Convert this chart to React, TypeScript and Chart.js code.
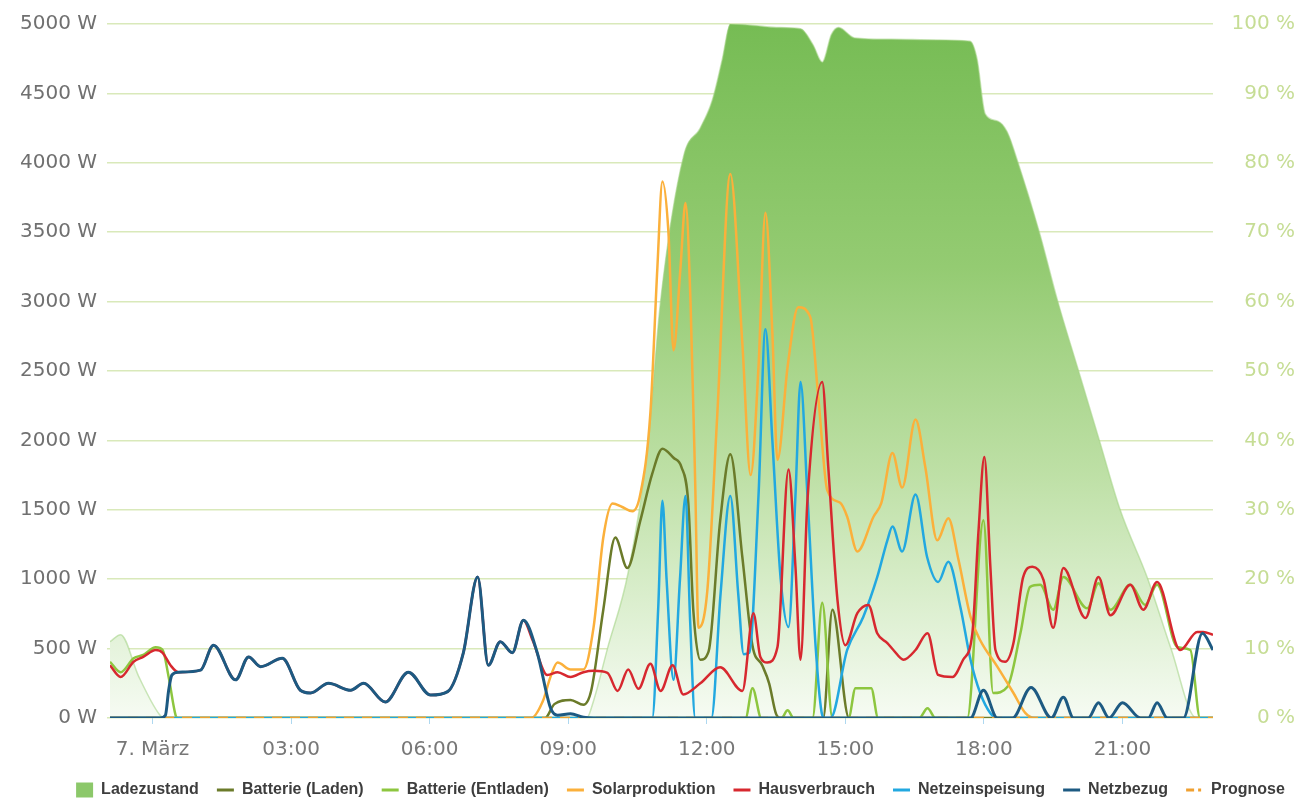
import React, { useEffect, useRef } from 'react';
import { Chart, registerables } from 'chart.js';

Chart.register(...registerables);

type P = [number, number];

// x values are hours of 7 March (negative = previous evening)
const timeTickHours = [0, 3, 6, 9, 12, 15, 18, 21];
const timeTickLabels = ['7. März', '03:00', '06:00', '09:00', '12:00', '15:00', '18:00', '21:00'];
const powerTicks = [0, 500, 1000, 1500, 2000, 2500, 3000, 3500, 4000, 4500, 5000];
const socTicks = [0, 10, 20, 30, 40, 50, 60, 70, 80, 90, 100];

const seriesLabels = [
  'Ladezustand',
  'Batterie (Laden)',
  'Batterie (Entladen)',
  'Solarproduktion',
  'Hausverbrauch',
  'Netzeinspeisung',
  'Netzbezug',
  'Prognose',
];
const seriesColors = ['#8cc86a', '#6b7b2a', '#8dc63f', '#fbb03b', '#d7282f', '#22a8e0', '#1d5a82', '#f0a030'];

// Ladezustand in %
const ladezustand: P[] = [
  [-0.92, 11], [-0.69, 12], [-0.3, 6], [0.15, 0.5], [0.25, 0], [9.4, 0], [9.55, 2.5], [9.85, 10],
  [10.3, 21], [10.72, 39], [11.0, 60], [11.5, 81], [11.86, 85], [12.12, 89], [12.34, 95], [12.51, 100],
  [13.0, 99.8], [13.5, 99.5], [14.03, 99.3], [14.3, 97], [14.5, 94.5], [14.7, 98.5], [14.85, 99.5],
  [15.2, 98], [16.0, 97.8], [17.0, 97.7], [17.7, 97.5], [17.85, 95], [18.03, 87], [18.3, 86],
  [18.5, 84.5], [18.74, 80], [19.2, 70], [19.6, 60], [20.05, 50], [20.5, 40], [20.95, 30],
  [21.55, 20], [22.05, 10], [22.6, 0], [22.96, 0],
];

// Watt series
const batterieLaden: P[] = [
  [-0.92, 0], [8.5, 0], [8.7, 100], [9.05, 130], [9.33, 95], [9.5, 200], [9.76, 780], [10.02, 1300],
  [10.28, 1080], [10.56, 1420], [10.82, 1760], [11.04, 1940], [11.28, 1875], [11.45, 1810],
  [11.6, 1550], [11.71, 770], [11.86, 420], [12.04, 480], [12.29, 1420], [12.51, 1900],
  [12.77, 1160], [12.99, 520], [13.2, 380], [13.35, 250], [13.5, 30], [13.6, 0], [14.52, 0],
  [14.72, 780], [15.08, 0], [22.96, 0],
];

const batterieEntladen: P[] = [
  [-0.92, 405], [-0.69, 330], [-0.41, 430], [-0.2, 455], [0.07, 510], [0.22, 490], [0.35, 295],
  [0.5, 20], [0.54, 0], [12.84, 0], [12.99, 215], [13.18, 0], [13.62, 0], [13.75, 55], [13.88, 0],
  [14.29, 0], [14.5, 830], [14.72, 0], [15.07, 0], [15.22, 215], [15.56, 215], [15.71, 0],
  [16.6, 0], [16.78, 70], [16.95, 0], [17.64, 0], [17.99, 1425], [18.2, 180], [18.51, 225],
  [18.79, 610], [19.0, 945], [19.22, 960], [19.5, 780], [19.72, 1015], [20.24, 790], [20.48, 970],
  [20.74, 780], [21.17, 960], [21.49, 815], [21.75, 960], [22.19, 510], [22.47, 490], [22.68, 0],
  [22.96, 0],
];

const solarproduktion: P[] = [
  [-0.92, 0], [8.2, 0], [8.45, 120], [8.62, 300], [8.77, 400], [9.05, 350], [9.33, 350], [9.55, 655],
  [9.76, 1300], [9.96, 1545], [10.17, 1520], [10.39, 1490], [10.56, 1610], [10.78, 2200],
  [10.93, 3240], [11.04, 3865], [11.17, 3500], [11.28, 2650], [11.43, 3240], [11.54, 3710],
  [11.65, 2980], [11.75, 1690], [11.82, 650], [12.01, 910], [12.23, 2200], [12.51, 3920],
  [12.77, 2700], [12.95, 1750], [13.12, 2530], [13.27, 3640], [13.42, 2775], [13.53, 1860],
  [13.75, 2530], [13.98, 2960], [14.24, 2890], [14.42, 2290], [14.61, 1640], [14.89, 1550],
  [15.04, 1450], [15.26, 1200], [15.61, 1450], [15.78, 1550], [16.02, 1910], [16.23, 1660],
  [16.52, 2150], [16.73, 1810], [16.99, 1280], [17.23, 1440], [17.45, 1140], [17.71, 730],
  [17.92, 560], [18.29, 370], [18.64, 180], [18.9, 35], [19.1, 0], [22.96, 0],
];

const hausverbrauch: P[] = [
  [-0.92, 380], [-0.69, 295], [-0.41, 405], [-0.2, 440], [0.07, 490], [0.22, 470], [0.39, 380],
  [0.56, 330], [1.04, 345], [1.32, 525], [1.8, 275], [2.08, 440], [2.34, 370], [2.81, 430],
  [3.2, 200], [3.42, 180], [3.81, 250], [4.29, 200], [4.57, 250], [5.04, 115], [5.54, 330],
  [6.02, 165], [6.39, 190], [6.73, 470], [7.04, 1015], [7.27, 380], [7.53, 550], [7.79, 470],
  [8.03, 705], [8.23, 560], [8.55, 310], [8.77, 330], [9.05, 295], [9.33, 330], [9.55, 340],
  [9.85, 325], [10.07, 195], [10.3, 350], [10.52, 210], [10.78, 390], [11.0, 195], [11.26, 380],
  [11.49, 170], [11.86, 250], [12.29, 365], [12.77, 195], [13.01, 755], [13.16, 440], [13.31, 400],
  [13.53, 510], [13.77, 1790], [13.92, 1090], [14.03, 420], [14.18, 1570], [14.5, 2420],
  [14.63, 1810], [14.83, 850], [15.0, 525], [15.26, 755], [15.5, 815], [15.69, 610], [15.91, 540],
  [16.04, 490], [16.26, 420], [16.52, 490], [16.78, 610], [17.01, 310], [17.32, 295], [17.55, 420],
  [17.75, 610], [17.88, 1330], [18.01, 1880], [18.14, 1090], [18.25, 490], [18.46, 405],
  [18.64, 540], [18.85, 1015], [19.05, 1090], [19.29, 995], [19.5, 650], [19.72, 1080],
  [20.2, 720], [20.48, 1015], [20.74, 740], [21.17, 960], [21.45, 780], [21.75, 980], [22.25, 490],
  [22.62, 620], [22.75, 620], [22.96, 600],
];

const netzeinspeisung: P[] = [
  [-0.92, 0], [10.82, 0], [10.95, 800], [11.04, 1565], [11.13, 1000], [11.28, 275], [11.42, 1000],
  [11.54, 1600], [11.64, 700], [11.75, 0], [12.1, 0], [12.3, 900], [12.51, 1600], [12.68, 900],
  [12.8, 460], [12.92, 470], [13.12, 1600], [13.27, 2800], [13.42, 2000], [13.6, 1000],
  [13.77, 655], [13.92, 1600], [14.03, 2420], [14.18, 1600], [14.36, 500], [14.5, 20], [14.55, 0],
  [14.68, 0], [15.04, 490], [15.39, 730], [15.69, 1015], [15.91, 1280], [16.02, 1380],
  [16.23, 1200], [16.52, 1610], [16.77, 1160], [17.01, 980], [17.23, 1125], [17.49, 800],
  [17.71, 420], [17.92, 180], [18.14, 35], [18.3, 0], [22.96, 0],
];

const netzbezug: P[] = [
  [-0.92, 0], [0.17, 0], [0.28, 20], [0.35, 200], [0.42, 310], [0.56, 330], [1.04, 345], [1.32, 525],
  [1.8, 275], [2.08, 440], [2.34, 370], [2.81, 430], [3.2, 200], [3.42, 180], [3.81, 250],
  [4.29, 200], [4.57, 250], [5.04, 115], [5.54, 330], [6.02, 165], [6.39, 190], [6.73, 470],
  [7.04, 1015], [7.27, 380], [7.53, 550], [7.79, 470], [8.03, 705], [8.33, 470], [8.62, 70],
  [8.77, 20], [9.05, 30], [9.33, 5], [9.55, 0], [17.71, 0], [17.99, 200], [18.29, 0], [18.62, 0],
  [19.02, 220], [19.46, 0], [19.72, 150], [19.94, 0], [20.26, 0], [20.48, 110], [20.71, 0],
  [21.0, 110], [21.39, 0], [21.56, 0], [21.75, 110], [21.97, 0], [22.32, 0], [22.73, 610],
  [22.96, 490],
];

const prognose: P[] = [[-0.92, 0], [22.96, 0]];

const toXY = (arr: P[]) => arr.map(([x, y]) => ({ x, y }));

// moves the (centred) legend row sideways, as in the original layout
const legendShift = {
  id: 'legendShift',
  afterLayout(chart: any) {
    const l = chart.legend;
    if (l) {
      l.left += 33;
      l.right += 33;
    }
  },
};

export default function App() {
  const ref = useRef<HTMLCanvasElement | null>(null);

  useEffect(() => {
    if (!ref.current) return;
    const tickFont = { family: 'DejaVu Sans', size: 20 };
    const line = (i: number, data: P[], order: number, width = 2.5, extra: any = {}) => ({
      label: seriesLabels[i],
      data: toXY(data),
      borderColor: seriesColors[i],
      backgroundColor: seriesColors[i],
      borderWidth: width,
      pointRadius: 0,
      cubicInterpolationMode: 'monotone',
      fill: false,
      yAxisID: 'y',
      order,
      ...extra,
    });

    const chart = new Chart(ref.current, {
      type: 'line',
      plugins: [legendShift],
      data: {
        datasets: [
          {
            label: seriesLabels[0],
            data: toXY(ladezustand),
            yAxisID: 'y1',
            order: 20,
            fill: 'origin',
            pointRadius: 0,
            borderWidth: 1.5,
            borderColor: 'rgba(160,210,130,0.55)',
            cubicInterpolationMode: 'monotone',
            backgroundColor: (c: any) => {
              const a = c.chart.chartArea;
              if (!a) return 'rgba(140,200,100,0.6)';
              const g = c.chart.ctx.createLinearGradient(0, a.top, 0, a.bottom);
              g.addColorStop(0, 'rgb(118,188,84)');
              g.addColorStop(0.35, 'rgb(148,203,114)');
              g.addColorStop(0.65, 'rgb(190,224,166)');
              g.addColorStop(0.85, 'rgb(222,240,210)');
              g.addColorStop(1, 'rgb(246,251,243)');
              return g;
            },
          } as any,
          line(1, batterieLaden, 6),
          line(2, batterieEntladen, 5),
          line(3, solarproduktion, 4),
          line(4, hausverbrauch, 2),
          line(5, netzeinspeisung, 3),
          line(6, netzbezug, 0, 3),
          line(7, prognose, 1, 2.5, { borderDash: [10, 8] }),
        ],
      },
      options: {
        animation: false,
        responsive: false,
        devicePixelRatio: 1,
        events: [],
        layout: { padding: { top: 24, left: 0, right: 8, bottom: 0 } },
        plugins: {
          tooltip: { enabled: false },
          title: { display: false },
          legend: {
            position: 'bottom',
            labels: {
              usePointStyle: true,
              pointStyleWidth: 17,
              boxHeight: 15,
              padding: 18,
              color: '#3d3d3d',
              font: { family: 'Liberation Sans', size: 16, weight: 'bold' },
              generateLabels: () =>
                seriesLabels.map((text, i) => ({
                  text,
                  fillStyle: seriesColors[i],
                  strokeStyle: seriesColors[i],
                  lineWidth: i === 0 ? 0 : 3,
                  lineDash: i === 7 ? [8, 4, 3, 4] : [],
                  pointStyle: i === 0 ? 'rect' : 'line',
                  hidden: false,
                  datasetIndex: i,
                  fontColor: '#3d3d3d',
                })) as any,
            },
          },
        },
        scales: {
          x: {
            type: 'linear',
            min: -0.92,
            max: 22.96,
            afterBuildTicks: (s: any) => {
              s.ticks = timeTickHours.map((v) => ({ value: v }));
            },
            afterFit: (s: any) => {
              s.height = 46;
            },
            ticks: {
              autoSkip: false,
              maxRotation: 0,
              padding: 14,
              color: '#777777',
              font: tickFont,
              callback: (v: any) => {
                const i = timeTickHours.indexOf(Number(v));
                return i >= 0 ? timeTickLabels[i] : '';
              },
            },
            grid: {
              drawOnChartArea: false,
              drawTicks: true,
              tickLength: 6,
              color: 'rgba(120,190,230,0.6)',
            },
            border: { display: false },
          },
          y: {
            position: 'left',
            min: 0,
            max: 5000,
            afterBuildTicks: (s: any) => {
              s.ticks = powerTicks.map((v) => ({ value: v }));
            },
            afterFit: (s: any) => {
              s.width = 110;
            },
            ticks: {
              padding: 10,
              color: '#707070',
              font: tickFont,
              callback: (v: any) => `${v} W`,
            },
            grid: {
              color: 'rgba(185,215,130,0.55)',
              lineWidth: 1.5,
              tickLength: 3,
            },
            border: { display: false },
          },
          y1: {
            position: 'right',
            min: 0,
            max: 100,
            afterBuildTicks: (s: any) => {
              s.ticks = socTicks.map((v) => ({ value: v }));
            },
            afterFit: (s: any) => {
              s.width = 82;
            },
            ticks: {
              padding: 12,
              crossAlign: 'far',
              color: '#c6dd95',
              font: tickFont,
              callback: (v: any) => `${v} %`,
            },
            grid: { display: false, drawTicks: false },
            border: { display: false },
          },
        },
      } as any,
    });
    return () => chart.destroy();
  }, []);

  return (
    <div
      style={{
        position: 'fixed',
        left: 0,
        top: 0,
        width: 1303,
        height: 800,
        overflow: 'hidden',
        background: '#ffffff',
      }}
    >
      <canvas ref={ref} width={1303} height={808} style={{ display: 'block' }} />
    </div>
  );
}
